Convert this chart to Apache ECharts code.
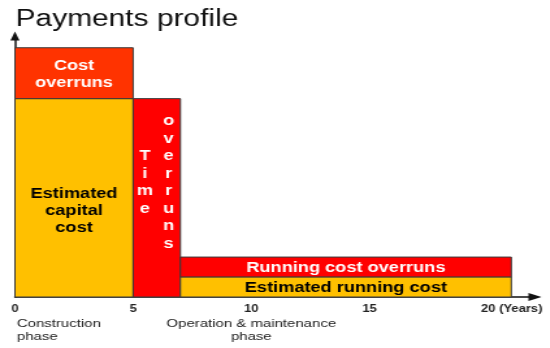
<!DOCTYPE html>
<html>
<head>
<meta charset="utf-8">
<script src="https://cdn.jsdelivr.net/npm/echarts@6/dist/echarts.min.js"></script>
<style>
  html, body { margin: 0; padding: 0; background: #fff; overflow: hidden; }
  #wrap { width: 550px; height: 348px; overflow: hidden; }
  #chart { width: 423px; height: 348px; transform: scaleX(1.3); transform-origin: 0 0; }
</style>
</head>
<body>
<div id="wrap"><div id="chart"></div></div>
<script>
// ---- data ----
const blockNames = ['Estimated capital cost', 'Cost overruns', 'Time overruns', 'Estimated running cost', 'Running cost overruns'];
const blockStart = [0, 0, 5, 7, 7];     // years
const blockEnd   = [5, 5, 7, 21, 21];   // years
const blockBase  = [0, 76, 0, 0, 7.7];  // payment level (relative)
const blockTop   = [76, 95.5, 76, 7.7, 15.3];
const xTicks = [0, 5, 10, 15, 20];
const xUnit = '(Years)';
const phaseLabels = ['Construction\nphase', 'Operation & maintenance\nphase'];
const phaseX = [0, 10];

// ---- styles ----
const FONT = '"Liberation Sans", Arial, sans-serif';
const blockColors = ['#FFC000', '#FF3300', '#FF0000', '#FFC000', '#FF0000'];
const labelColors = ['#000', '#fff', '#fff', '#000', '#fff'];
const labelLines = [
  'Estimated\ncapital\ncost',
  'Cost\noverruns',
  null,
  'Estimated running cost',
  'Running cost overruns'
];
const labelDy = [13, 1, -15, 1.5, 1.5];
const verticalLabel = [false, false, true, false, false];
const phaseAlign = ['left', 'center'];
const phaseDx = [1.5, 0];

const blockData = blockNames.map((n, i) => [blockStart[i], blockEnd[i], blockBase[i], blockTop[i], i]);
const phaseData = phaseLabels.map((t, i) => [phaseX[i], 0, i]);

const chart = echarts.init(document.getElementById('chart'), null, { renderer: 'canvas' });

chart.setOption({
  animation: false,
  backgroundColor: '#fff',
  title: {
    text: 'Payments profile',
    left: 7,
    top: 3,
    textStyle: { fontFamily: FONT, fontSize: 23, fontWeight: 'normal', color: '#111' }
  },
  grid: { left: 11.5, right: 11.5, top: 36, bottom: 51, containLabel: false },
  xAxis: {
    type: 'value',
    min: 0, max: 22, interval: 5,
    axisLine: { show: true, symbol: ['none', 'triangle'], symbolSize: [8, 10], lineStyle: { color: '#111', width: 1.5 } },
    axisTick: { show: false },
    splitLine: { show: false },
    axisLabel: {
      showMaxLabel: false,
      margin: 7,
      fontFamily: FONT, fontSize: 10, fontWeight: 'bold', color: '#222',
      formatter: v => (xTicks.indexOf(v) < 0 ? '' : (v === 20 ? '{y|' + v + ' ' + xUnit + '}' : String(v))),
      rich: { y: { fontFamily: FONT, fontSize: 10, fontWeight: 'bold', color: '#222', padding: [0, 0, 0, 37] } }
    }
  },
  yAxis: {
    type: 'value',
    min: 0, max: 100,
    axisLine: { show: true, symbol: ['none', 'triangle'], symbolSize: [7, 9], lineStyle: { color: '#111', width: 1.5 } },
    axisTick: { show: false },
    axisLabel: { show: false },
    splitLine: { show: false }
  },
  series: [
    {
      type: 'custom',
      clip: false,
      z: 1,
      encode: { x: [0, 1], y: [2, 3] },
      data: blockData,
      renderItem: function (params, api) {
        const i = api.value(4);
        const p0 = api.coord([api.value(0), api.value(2)]);
        const p1 = api.coord([api.value(1), api.value(3)]);
        const cx = (p0[0] + p1[0]) / 2;
        const cy = (p0[1] + p1[1]) / 2 + labelDy[i];
        const children = [{
          type: 'rect',
          shape: { x: p0[0], y: p1[1], width: p1[0] - p0[0], height: p0[1] - p1[1] },
          style: { fill: blockColors[i], stroke: '#3a3a3a', lineWidth: 1 }
        }];
        const fontStyle = { fill: labelColors[i], fontFamily: FONT, fontSize: 14, fontWeight: 'bold', align: 'center', verticalAlign: 'middle', lineHeight: 17.5 };
        if (verticalLabel[i]) {
          const words = blockNames[i].split(' ');
          const w = p1[0] - p0[0];
          words.forEach((word, k) => {
            const colX = p0[0] + w * (k + 0.5) / words.length;
            children.push({
              type: 'text',
              x: colX, y: cy,
              style: Object.assign({ text: word.split('').join('\n') }, fontStyle)
            });
          });
        } else {
          children.push({
            type: 'text',
            x: cx, y: cy,
            style: Object.assign({ text: labelLines[i] }, fontStyle, { lineHeight: 17 })
          });
        }
        return { type: 'group', children: children };
      }
    },
    {
      type: 'custom',
      clip: false,
      z: 2,
      encode: { x: 0, y: 1 },
      data: phaseData,
      renderItem: function (params, api) {
        const i = api.value(2);
        const p = api.coord([api.value(0), api.value(1)]);
        return {
          type: 'text',
          x: p[0] + phaseDx[i], y: p[1] + 20.5,
          style: { text: phaseLabels[i], fill: '#222', fontFamily: FONT, fontSize: 11.5, align: phaseAlign[i], verticalAlign: 'top', lineHeight: 13 }
        };
      }
    }
  ]
});
</script>
</body>
</html>
